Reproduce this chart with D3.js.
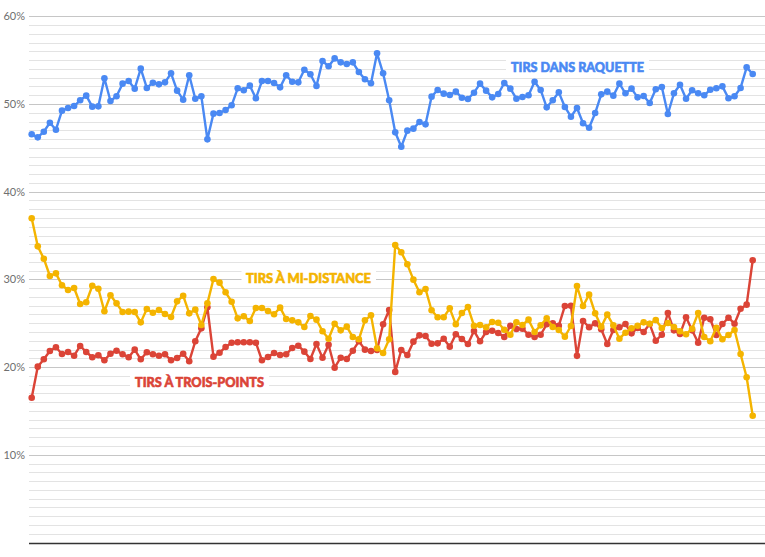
<!DOCTYPE html>
<html><head><meta charset="utf-8">
<script src="https://cdn.jsdelivr.net/npm/d3@7"></script>
<style>body{margin:0;background:#fff}svg{display:block}</style>
</head><body>
<svg id="c" width="765" height="557"></svg>
<script>
const raquette = [46.55,46.2,46.84,47.87,47.07,49.24,49.54,49.77,50.42,50.95,49.7,49.73,52.93,50.34,50.88,52.32,52.62,51.75,54.03,51.83,52.43,52.24,52.47,53.5,51.52,50.49,53.27,50.6,50.88,45.97,48.9,48.97,49.32,49.85,51.79,51.56,52.09,50.65,52.62,52.62,52.4,51.9,53.27,52.54,52.47,53.9,53.39,52.05,54.9,54.3,55.2,54.75,54.56,54.75,53.65,52.82,52.36,55.78,53.5,50.42,46.77,45.13,46.96,47.19,47.95,47.68,50.84,51.6,51.18,51.03,51.41,50.72,50.57,51.29,52.32,51.52,50.76,51.14,52.4,51.75,50.6,50.8,50.99,52.54,51.6,49.62,50.42,51.33,49.66,48.55,49.55,47.8,47.3,48.97,51.1,51.41,50.95,52.32,51.22,51.75,50.76,50.91,50.11,51.68,51.94,48.86,51.22,52.2,50.6,51.56,51.22,50.99,51.63,51.79,52.01,50.65,50.88,51.83,54.18,53.42];
const miDistance = [36.97,33.77,32.36,30.39,30.69,29.33,28.79,29.02,27.19,27.39,29.28,28.94,26.36,28.19,27.27,26.28,26.32,26.28,25.1,26.62,26.2,26.51,26.05,25.71,27.5,28.14,26.13,26.55,24.8,27.27,30.05,29.63,28.53,27.46,25.56,25.79,25.26,26.74,26.74,26.4,26.02,26.78,25.48,25.33,25.1,24.57,25.83,25.41,24.08,23.24,24.95,24.19,24.61,23.43,23.17,25.33,25.9,22.14,21.61,23.17,33.92,33.09,31.72,29.97,28.53,28.91,26.48,25.68,25.68,26.7,24.88,26.17,26.85,24.72,24.8,24.54,25.14,25.06,24.26,23.69,25.1,24.8,25.41,24.0,24.76,25.56,24.57,24.23,23.47,24.69,29.25,26.97,28.26,26.13,24.61,25.98,24.76,23.24,23.92,24.42,24.72,25.1,24.95,25.37,24.46,25.03,24.57,24.08,23.74,24.38,26.17,23.43,22.94,24.49,23.17,23.66,24.23,21.49,18.84,14.46];
const troisPoints = [16.51,20.05,20.89,21.84,22.26,21.49,21.72,21.3,22.41,21.72,21.12,21.35,20.78,21.53,21.87,21.46,21.12,21.99,20.89,21.69,21.46,21.3,21.46,20.78,21.04,21.53,20.66,22.94,24.42,26.82,21.19,21.64,22.29,22.78,22.83,22.83,22.83,22.78,20.78,21.15,21.61,21.38,21.46,22.18,22.44,21.76,20.92,22.63,21.07,22.55,19.93,21.07,20.92,21.87,22.94,21.99,21.84,21.95,24.88,26.51,19.45,21.95,21.38,22.9,23.62,23.55,22.67,22.71,23.24,22.33,23.74,23.2,22.63,24.12,22.94,24.0,24.15,23.89,23.43,24.72,24.34,24.38,23.69,23.43,23.69,24.88,24.99,24.72,26.97,27.0,21.28,25.26,24.54,24.99,24.31,22.63,24.23,24.54,24.91,23.85,24.46,24.0,24.91,23.01,23.69,26.17,24.19,23.77,25.68,24.19,22.78,25.63,25.45,23.66,24.91,25.63,24.95,26.66,27.12,32.18];
const yTickLabels = ["10%","20%","30%","40%","50%","60%"];
const yTickValues = [10,20,30,40,50,60];
const seriesNames = ["TIRS DANS RAQUETTE","TIRS À MI-DISTANCE","TIRS À TROIS-POINTS"];

const svg = d3.select("#c");
const x = d3.scaleLinear().domain([0, raquette.length-1]).range([31.7, 752.7]);
const y = d3.scaleLinear().domain([0, 60]).range([542.5, 16.3]);

const g = svg.append("g");
g.selectAll("line.minor").data(d3.range(1, 61)).join("line")
  .attr("x1", 29).attr("x2", 765)
  .attr("y1", d => Math.round(y(d)) + 0.5).attr("y2", d => Math.round(y(d)) + 0.5)
  .attr("stroke", d => d % 10 === 0 ? "#c6c6c6" : "#e3e3e3").attr("stroke-width", 1);
g.append("line").attr("x1", 29).attr("x2", 765)
  .attr("y1", Math.round(y(0)) + 0.5).attr("y2", Math.round(y(0)) + 0.5)
  .attr("stroke", "#333").attr("stroke-width", 1.5);

g.selectAll("text.yl").data(yTickValues).join("text")
  .attr("x", 25).attr("y", d => y(d)).attr("dy", "0.35em")
  .attr("text-anchor", "end")
  .attr("font-family", "Lato, 'Open Sans', sans-serif").attr("font-size", 11)
  .attr("fill", "#6f6f6f")
  .text((d, i) => yTickLabels[i]);

const labels = [
  {t: seriesNames[0], x: 511, y: 71.5, w: 133, c: "#4a89f3", bx: 506, bw: 143},
  {t: seriesNames[1], x: 246, y: 283.3, w: 125, c: "#f4b400", bx: 241.5, bw: 134.5},
  {t: seriesNames[2], x: 135, y: 387.3, w: 129, c: "#db4437", bx: 130, bw: 139}
];
labels.forEach(l => {
  svg.append("rect").attr("x", l.bx).attr("y", l.y - 14).attr("width", l.bw).attr("height", 18).attr("fill", "#fff");
  svg.append("text").attr("x", l.x).attr("y", l.y)
    .attr("font-family", "Lato, 'Open Sans', sans-serif").attr("font-weight", 900).attr("font-size", 13.5)
    .attr("fill", l.c).attr("stroke", l.c).attr("stroke-width", 0.6)
    .attr("textLength", l.w).attr("lengthAdjust", "spacingAndGlyphs")
    .text(l.t);
});

const series = [
  {d: raquette, c: "#4a89f3"},
  {d: troisPoints, c: "#db4437"},
  {d: miDistance, c: "#f4b400"}
];
const line = d3.line().x((d, i) => x(i)).y(d => y(d));
series.forEach(s => {
  const sg = svg.append("g");
  sg.append("path").datum(s.d).attr("d", line).attr("fill", "none")
    .attr("stroke", s.c).attr("stroke-width", 2.4).attr("stroke-linejoin", "round");
  sg.selectAll("circle").data(s.d).join("circle")
    .attr("cx", (d, i) => x(i)).attr("cy", d => y(d)).attr("r", 3.3).attr("fill", s.c);
});
</script>
</body></html>
